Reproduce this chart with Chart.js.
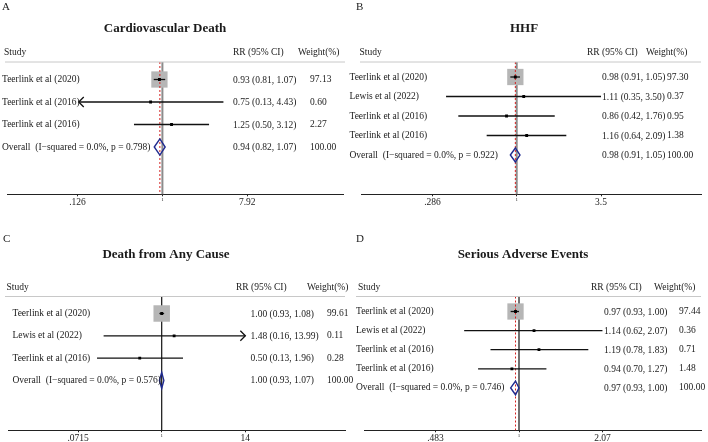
<!DOCTYPE html>
<html>
<head>
<meta charset="utf-8">
<script src="https://cdn.jsdelivr.net/npm/chart.js@4.4.1/dist/chart.umd.min.js"></script>
<style>
  html, body { margin: 0; padding: 0; background: #fff; }
  #wrap { position: relative; width: 708px; height: 442px; overflow: hidden; }
  canvas { position: absolute; }
</style>
</head>
<body>
<div id="wrap">
  <canvas id="panelA"></canvas>
  <canvas id="panelB"></canvas>
  <canvas id="panelC"></canvas>
  <canvas id="panelD"></canvas>
</div>
<script>
// --- A: Cardiovascular Death ---
const studiesA = ['Teerlink et al (2020)', 'Teerlink et al (2016)', 'Teerlink et al (2016)'];
const rrA = [0.93, 0.75, 1.25];
const loA = [0.81, 0.13, 0.50];
const hiA = [1.07, 4.43, 3.12];
const weightA = [97.13, 0.60, 2.27];
const overallA = [0.94, 0.82, 1.07];
const hetA = 'I\u2212squared = 0.0%, p = 0.798';
const ticksA = [0.126, 1, 7.92];
const tickLabelsA = ['.126', '1', '7.92'];

// --- B: HHF ---
const studiesB = ['Teerlink et al (2020)', 'Lewis et al (2022)', 'Teerlink et al (2016)', 'Teerlink et al (2016)'];
const rrB = [0.98, 1.11, 0.86, 1.16];
const loB = [0.91, 0.35, 0.42, 0.64];
const hiB = [1.05, 3.50, 1.76, 2.09];
const weightB = [97.30, 0.37, 0.95, 1.38];
const overallB = [0.98, 0.91, 1.05];
const hetB = 'I\u2212squared = 0.0%, p = 0.922';
const ticksB = [0.286, 1, 3.5];
const tickLabelsB = ['.286', '1', '3.5'];

// --- C: Death from Any Cause ---
const studiesC = ['Teerlink et al (2020)', 'Lewis et al (2022)', 'Teerlink et al (2016)'];
const rrC = [1.00, 1.48, 0.50];
const loC = [0.93, 0.16, 0.13];
const hiC = [1.08, 13.99, 1.96];
const weightC = [99.61, 0.11, 0.28];
const overallC = [1.00, 0.93, 1.07];
const hetC = 'I\u2212squared = 0.0%, p = 0.576';
const ticksC = [0.0715, 1, 14];
const tickLabelsC = ['.0715', '1', '14'];

// --- D: Serious Adverse Events ---
const studiesD = ['Teerlink et al (2020)', 'Lewis et al (2022)', 'Teerlink et al (2016)', 'Teerlink et al (2016)'];
const rrD = [0.97, 1.14, 1.19, 0.94];
const loD = [0.93, 0.62, 0.78, 0.70];
const hiD = [1.00, 2.07, 1.83, 1.27];
const weightD = [97.44, 0.36, 0.71, 1.48];
const overallD = [0.97, 0.93, 1.00];
const hetD = 'I\u2212squared = 0.0%, p = 0.746';
const ticksD = [0.483, 1, 2.07];
const tickLabelsD = ['.483', '1', '2.07'];

const SERIF = "'Liberation Serif', 'Times New Roman', serif";
const TEXT = '#1a1a1a';
const AXIS_H = 26;   // height reserved for the x axis
const BOX = 16.5;    // side of a 100% weight box

// layout of each panel, in page pixels
const panels = [
  { id: 'panelA', letter: 'A', title: 'Cardiovascular Death', box: [0, 0, 364, 221],
    studies: studiesA, rr: rrA, lo: loA, hi: hiA, weight: weightA, overall: overallA, het: hetA,
    ticks: ticksA, tickLabels: tickLabelsA, arrows: ['', 'lo', ''],
    area: [7, 343, 62, 194.3], onePx: 162.4, pxPerLn: 41, firstRow: 79.5, rowStep: 22.5,
    letterPos: [2, 7], titlePos: [165, 29], headY: 52.7, headLine: [5, 345],
    studyX: 2, studyHeadX: 4, rrHeadX: 233, rrX: 233, wHeadX: 298, wX: 310,
    nullColor: '#8c8c8c', nullWidth: 2 },
  { id: 'panelB', letter: 'B', title: 'HHF', box: [344, 0, 364, 221],
    studies: studiesB, rr: rrB, lo: loB, hi: hiB, weight: weightB, overall: overallB, het: hetB,
    ticks: ticksB, tickLabels: tickLabelsB, arrows: ['', '', '', ''],
    area: [361, 701, 62, 194.3], onePx: 516.7, pxPerLn: 67.3, firstRow: 77, rowStep: 19.5,
    letterPos: [356, 7], titlePos: [524, 29], headY: 52.7, headLine: [360, 701],
    studyX: 349.5, studyHeadX: 359.5, rrHeadX: 587, rrX: 602, wHeadX: 646, wX: 667,
    nullColor: '#8c8c8c', nullWidth: 2 },
  { id: 'panelC', letter: 'C', title: 'Death from Any Cause', box: [0, 221, 364, 221],
    studies: studiesC, rr: rrC, lo: loC, hi: hiC, weight: weightC, overall: overallC, het: hetC,
    ticks: ticksC, tickLabels: tickLabelsC, arrows: ['', 'hi', ''],
    area: [8, 345, 296.5, 430.3], onePx: 161.7, pxPerLn: 31.7, firstRow: 313.5, rowStep: 22.3,
    letterPos: [3, 239], titlePos: [166, 254.3], headY: 287.3, headLine: [5, 345],
    studyX: 12.5, studyHeadX: 6.5, rrHeadX: 236, rrX: 250.5, wHeadX: 307, wX: 327,
    nullColor: '#111', nullWidth: 1.2 },
  { id: 'panelD', letter: 'D', title: 'Serious Adverse Events', box: [344, 221, 364, 221],
    studies: studiesD, rr: rrD, lo: loD, hi: hiD, weight: weightD, overall: overallD, het: hetD,
    ticks: ticksD, tickLabels: tickLabelsD, arrows: ['', '', '', ''],
    area: [364, 701, 296.5, 430.3], onePx: 519, pxPerLn: 114.7, firstRow: 311.5, rowStep: 19.1,
    letterPos: [356, 239], titlePos: [523, 254.3], headY: 287.3, headLine: [356, 701],
    studyX: 356, studyHeadX: 358, rrHeadX: 591, rrX: 604, wHeadX: 654, wX: 679,
    nullColor: '#111', nullWidth: 1.2 }
];

function ciText(v, lo, hi) {
  return v.toFixed(2) + ' (' + lo.toFixed(2) + ', ' + hi.toFixed(2) + ')';
}

function line(ctx, x1, y1, x2, y2, color, width) {
  ctx.beginPath();
  ctx.moveTo(x1, y1);
  ctx.lineTo(x2, y2);
  ctx.strokeStyle = color;
  ctx.lineWidth = width;
  ctx.stroke();
}

function makeForestPlugin(p) {
  const ox = p.box[0], oy = p.box[1];
  return {
    id: 'forest' + p.letter,
    beforeDatasetsDraw(chart) {
      const { ctx, chartArea: a, scales: { x, y } } = chart;
      ctx.save();
      // line of no effect
      const x1 = x.getPixelForValue(1);
      line(ctx, x1, a.top, x1, a.bottom, p.nullColor, p.nullWidth);

      // weight boxes
      ctx.fillStyle = '#b6b6b6';
      p.rr.forEach((v, i) => {
        const s = BOX * Math.sqrt(p.weight[i] / 100);
        const cx = x.getPixelForValue(v), cy = y.getPixelForValue(i + 1);
        ctx.fillRect(cx - s / 2, cy - s / 2, s, s);
      });

      // pooled estimate, red dashed
      if (p.overall[0] !== 1) {
        const xo = x.getPixelForValue(p.overall[0]);
        ctx.setLineDash([2, 2]);
        line(ctx, xo, a.top, xo, a.bottom, '#d42020', 1);
        ctx.setLineDash([]);
      }

      // confidence intervals
      p.rr.forEach((v, i) => {
        const cy = y.getPixelForValue(i + 1);
        const xl = x.getPixelForValue(p.lo[i]), xh = x.getPixelForValue(p.hi[i]);
        line(ctx, xl, cy, xh, cy, '#111', 1.3);
        if (p.arrows[i] === 'lo') {
          ctx.beginPath();
          ctx.moveTo(xl + 5, cy - 5); ctx.lineTo(xl, cy); ctx.lineTo(xl + 5, cy + 5);
          ctx.stroke();
        } else if (p.arrows[i] === 'hi') {
          ctx.beginPath();
          ctx.moveTo(xh - 5, cy - 5); ctx.lineTo(xh, cy); ctx.lineTo(xh - 5, cy + 5);
          ctx.stroke();
        }
      });

      // overall diamond
      const n = p.rr.length + 1;
      const cy = y.getPixelForValue(n);
      const half = p.rowStep * 0.36;
      ctx.beginPath();
      ctx.moveTo(x.getPixelForValue(p.overall[1]), cy);
      ctx.lineTo(x.getPixelForValue(p.overall[0]), cy - half);
      ctx.lineTo(x.getPixelForValue(p.overall[2]), cy);
      ctx.lineTo(x.getPixelForValue(p.overall[0]), cy + half);
      ctx.closePath();
      ctx.strokeStyle = '#1f2a8f';
      ctx.lineWidth = 1.4;
      ctx.stroke();
      ctx.restore();
    },
    afterDraw(chart) {
      const { ctx, scales: { y } } = chart;
      ctx.save();
      ctx.textBaseline = 'middle';
      ctx.fillStyle = TEXT;

      // panel letter and title
      ctx.font = '11px ' + SERIF;
      ctx.textAlign = 'left';
      ctx.fillText(p.letter, p.letterPos[0] - ox, p.letterPos[1] - oy);
      ctx.font = 'bold 13px ' + SERIF;
      ctx.textAlign = 'center';
      ctx.fillText(p.title, p.titlePos[0] - ox, p.titlePos[1] - oy);

      // column headers
      ctx.font = '9.5px ' + SERIF;
      ctx.textAlign = 'left';
      ctx.fillText('Study', p.studyHeadX - ox, p.headY - oy);
      ctx.fillText('RR (95% CI)', p.rrHeadX - ox, p.headY - oy);
      ctx.fillText('Weight(%)', p.wHeadX - ox, p.headY - oy);
      line(ctx, p.headLine[0] - ox, p.area[2] - oy, p.headLine[1] - ox, p.area[2] - oy, '#c8c8c8', 1);

      // rows
      ctx.fillStyle = TEXT;
      p.studies.forEach((s, i) => {
        const cy = y.getPixelForValue(i + 1);
        ctx.fillText(s, p.studyX - ox, cy);
        ctx.fillText(ciText(p.rr[i], p.lo[i], p.hi[i]), p.rrX - ox, cy + 0.5);
        ctx.fillText(p.weight[i].toFixed(2), p.wX - ox, cy);
      });
      const cy = y.getPixelForValue(p.studies.length + 1);
      ctx.fillText('Overall  (' + p.het + ')', p.studyX - ox, cy);
      ctx.fillText(ciText(p.overall[0], p.overall[1], p.overall[2]), p.rrX - ox, cy + 0.5);
      ctx.fillText((100).toFixed(2), p.wX - ox, cy);
      ctx.restore();
    }
  };
}

panels.forEach(p => {
  const cv = document.getElementById(p.id);
  const [left, top, w, h] = p.box;
  cv.width = w; cv.height = h;
  cv.style.left = left + 'px'; cv.style.top = top + 'px';
  const [aL, aR, aT, aB] = p.area;

  new Chart(cv, {
    type: 'scatter',
    data: {
      datasets: [{
        data: p.rr.map((v, i) => ({ x: v, y: i + 1 })),
        pointStyle: 'rect',
        pointRadius: 2,
        backgroundColor: '#000',
        borderWidth: 0
      }]
    },
    options: {
      responsive: false,
      animation: false,
      events: [],
      layout: {
        padding: { left: aL - left, right: left + w - aR, top: aT - top, bottom: top + h - aB - AXIS_H }
      },
      plugins: { legend: { display: false }, tooltip: { enabled: false } },
      scales: {
        x: {
          type: 'logarithmic',
          min: Math.exp((aL - p.onePx) / p.pxPerLn),
          max: Math.exp((aR - p.onePx) / p.pxPerLn),
          afterBuildTicks: s => { s.ticks = p.ticks.map(v => ({ value: v })); },
          afterFit: s => { s.height = AXIS_H; },
          ticks: {
            autoSkip: false,
            maxRotation: 0,
            padding: 0,
            color: '#222',
            callback: (v, i) => p.tickLabels[i],
            font: c => ({ family: SERIF, size: (c.tick && c.tick.value === 1) ? 5 : 9.5 })
          },
          grid: { drawOnChartArea: false, drawTicks: true, tickLength: 2, color: '#222' },
          border: { display: true, color: '#222', width: 1 }
        },
        y: {
          type: 'linear',
          reverse: true,
          display: false,
          min: 1 - (p.firstRow - aT) / p.rowStep,
          max: 1 + (aB - p.firstRow) / p.rowStep
        }
      }
    },
    plugins: [makeForestPlugin(p)]
  });
});
</script>
</body>
</html>
